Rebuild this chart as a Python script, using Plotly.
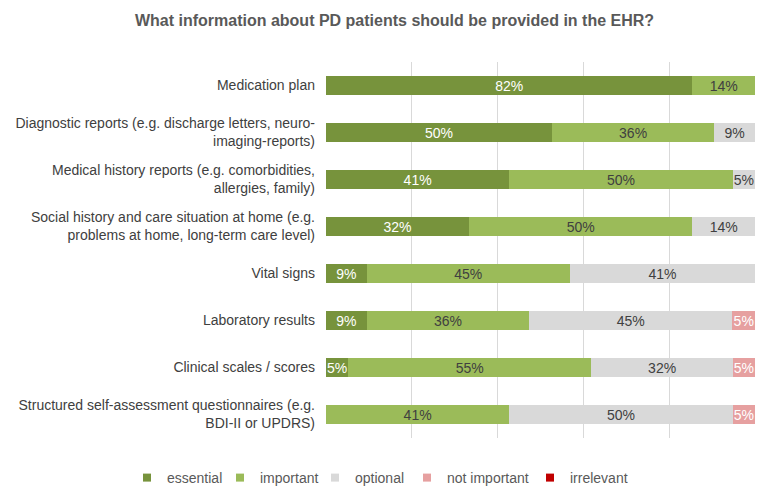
import plotly.graph_objects as go

categories = [
    "Medication plan",
    "Diagnostic reports (e.g. discharge letters, neuro-<br>imaging-reports)",
    "Medical history reports (e.g. comorbidities,<br>allergies, family)",
    "Social history and care situation at home (e.g.<br>problems at home, long-term care level)",
    "Vital signs",
    "Laboratory results",
    "Clinical scales / scores",
    "Structured self-assessment questionnaires (e.g.<br>BDI-II or UPDRS)",
]
essential = [82, 50, 41, 32, 9, 9, 5, 0]
important = [14, 36, 50, 50, 45, 36, 55, 41]
optional = [0, 9, 5, 14, 41, 45, 32, 50]
not_important = [0, 0, 0, 0, 0, 5, 5, 5]
irrelevant = [0, 0, 0, 0, 0, 0, 0, 0]

series = [
    ("essential", essential, "#77933C", "white"),
    ("important", important, "#9BBB59", "#404040"),
    ("optional", optional, "#D9D9D9", "#404040"),
    ("not important", not_important, "#E6A0A0", "white"),
    ("irrelevant", irrelevant, "#C00000", "white"),
]

W, H = 769, 491  # page body adds an 8px offset
FONT = "Liberation Sans, Arial, sans-serif"

fig = go.Figure()
for name, vals, color, tcolor in series:
    fig.add_trace(go.Bar(
        name=name, y=categories, x=vals, orientation="h",
        marker=dict(color=color, line=dict(width=0)),
        text=[f"{v}%" if v > 0 else "" for v in vals],
        textposition="inside", insidetextanchor="middle",
        textfont=dict(color=tcolor, size=14, family=FONT),
        hoverinfo="skip", showlegend=False,
    ))

# legend entries (one legend per entry for Excel-like spacing)
legend_text_x = [167, 260, 355, 447, 570]
legend_layout = {}
for i, ((name, vals, color, tcolor), tx) in enumerate(zip(series, legend_text_x)):
    key = "legend" if i == 0 else f"legend{i+1}"
    fig.add_trace(go.Scatter(
        name=name, x=[None], y=[None], mode="markers",
        marker=dict(symbol="square", size=8, color=color),
        legend=key, showlegend=True, hoverinfo="skip",
    ))
    legend_layout[key] = dict(
        orientation="h", xref="container", yref="container",
        x=(tx - 40 - 8) / W, xanchor="left",
        y=1 - (478 - 8) / H, yanchor="middle",
        font=dict(size=14, color="#595959", family=FONT),
        bgcolor="rgba(0,0,0,0)", borderwidth=0,
    )

fig.update_layout(
    barmode="stack", barnorm="percent", bargap=0.6,
    width=W, height=H,
    margin=dict(l=318, r=22, t=54, b=61),
    plot_bgcolor="white", paper_bgcolor="white",
    font=dict(family=FONT, color="#404040", size=14),
    title=dict(text="<b>What information about PD patients should be provided in the EHR?</b>",
               x=(394.5 - 8) / W, xanchor="center", xref="container",
               y=1 - (20 - 8) / H, yanchor="middle", yref="container",
               font=dict(size=16, color="#595959", family=FONT)),
    uniformtext=dict(minsize=14, mode="show"),
    **legend_layout,
)
fig.update_xaxes(range=[0, 100], dtick=20, showticklabels=False, showgrid=True,
                 gridcolor="#D9D9D9", gridwidth=1, zeroline=False, showline=False,
                 automargin=False)
fig.update_yaxes(autorange="reversed", showgrid=False, ticks="", ticklabelstandoff=10,
                 tickfont=dict(size=14, color="#404040", family=FONT), showline=False,
                 automargin=False)

fig.write_html("out.html")
